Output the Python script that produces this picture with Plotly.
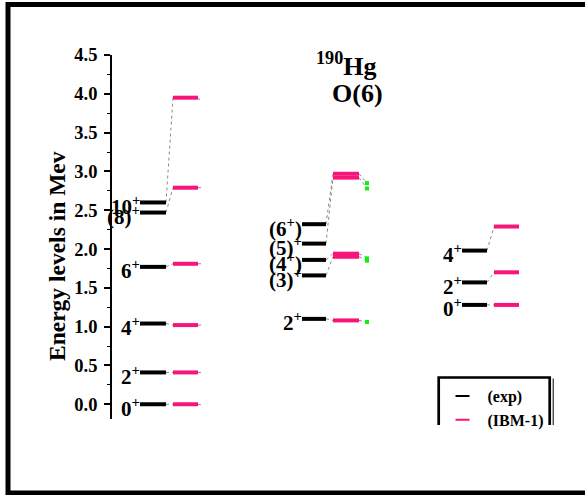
import plotly.graph_objects as go

# ---------------- data (energies in MeV) ----------------
g1_spin = ["0<sup>+</sup>", "2<sup>+</sup>", "4<sup>+</sup>", "6<sup>+</sup>", "(8)<sup>+</sup>", "10<sup>+</sup>"]
g1_exp = [0.00, 0.41, 1.04, 1.77, 2.47, 2.60]
g1_ibm = [0.00, 0.41, 1.02, 1.81, 2.79, 3.95]
g1_tail = [-0.01, 0.41, 1.02, 1.81, 2.79, 3.89]

g2_spin = ["2<sup>+</sup>", "(3)<sup>+</sup>", "(4<sup>+</sup>)", "(5)<sup>+</sup>", "(6<sup>+</sup>)"]
g2_exp = [1.10, 1.66, 1.86, 2.07, 2.32]
g2_ibm = [1.08, 1.90, 1.94, 2.92, 2.97]
g2_alt = [1.06, 1.85, 1.88, 2.78, 2.85]

g3_spin = ["0<sup>+</sup>", "2<sup>+</sup>", "4<sup>+</sup>"]
g3_exp = [1.28, 1.57, 1.98]
g3_ibm = [1.28, 1.70, 2.29]

y_ticks = [0.0, 0.5, 1.0, 1.5, 2.0, 2.5, 3.0, 3.5, 4.0, 4.5]

# ---------------- layout constants ----------------
W, H = 585, 495
L, R, T, B = 112, 585, 55, 419          # plot area in pixels
FONT = "Liberation Serif"
BLACK = "#000000"
PINK = "#F7157C"
GREEN = "#11EE11"
GREY = "#8a8a8a"

# column positions (x axis units == pixels)
groups = [
    dict(spin=g1_spin, exp=g1_exp, ibm=g1_ibm, nxt=g1_tail, col=(140, 166, 173, 198, 202), mark=False),
    dict(spin=g2_spin, exp=g2_exp, ibm=g2_ibm, nxt=g2_alt, col=(302, 326, 333, 359, 367), mark=True),
    dict(spin=g3_spin, exp=g3_exp, ibm=g3_ibm, nxt=None, col=(462, 487, 494, 519, None), mark=False),
]


def px_x(p):
    return (p - L) / (R - L)


def px_y(p):
    return (B - p) / (B - T)


fig = go.Figure()

# connectors (dotted), drawn first
cx, cy = [], []
for g in groups:
    a0, a1, b0, b1, c0 = g["col"]
    for i, e in enumerate(g["exp"]):
        cx += [a1, b0, None]
        cy += [e, g["ibm"][i], None]
        if g["nxt"] is not None:
            cx += [b1, c0, None]
            cy += [g["ibm"][i], g["nxt"][i], None]
fig.add_trace(go.Scatter(x=cx, y=cy, mode="lines", showlegend=False, hoverinfo="skip",
                         line=dict(color=GREY, width=1, dash="dot")))

# level bars
for key, color, name in [("exp", BLACK, "(exp)"), ("ibm", PINK, "(IBM-1)")]:
    bx, by = [], []
    for g in groups:
        a0, a1, b0, b1, c0 = g["col"]
        x0, x1 = (a0, a1) if key == "exp" else (b0, b1)
        for e in g[key]:
            bx += [x0, x1, None]
            by += [e, e, None]
    fig.add_trace(go.Scatter(x=bx, y=by, mode="lines", name=name, legendgroup=name,
                             showlegend=False, line=dict(color=color, width=4)))

# third-column points (green)
for g in groups:
    if g["mark"]:
        fig.add_trace(go.Scatter(x=[g["col"][4]] * len(g["nxt"]), y=g["nxt"], mode="markers",
                                 showlegend=False,
                                 marker=dict(symbol="square", size=4, color=GREEN)))

# legend entries
for color, name in [(BLACK, "(exp)"), (PINK, "(IBM-1)")]:
    fig.add_trace(go.Scatter(x=[None], y=[None], mode="markers", name=name, legendgroup=name,
                             marker=dict(symbol="line-ew", size=10,
                                         line=dict(color=color, width=2))))

annotations = []
# spin labels
for g in groups:
    for e, s in zip(g["exp"], g["spin"]):
        annotations.append(dict(x=g["col"][0], y=e, xref="x", yref="y", text=s, showarrow=False,
                                xanchor="right", yanchor="middle", xshift=2, yshift=-3,
                                font=dict(family=FONT, size=21, color=BLACK, weight="bold")))

# title texts
annotations.append(dict(x=px_x(346), y=px_y(64), xref="paper", yref="paper",
                        text="<sup>190</sup>Hg", showarrow=False, xanchor="center", yanchor="middle",
                        font=dict(family=FONT, size=26, color=BLACK, weight="bold")))
annotations.append(dict(x=px_x(357), y=px_y(94), xref="paper", yref="paper",
                        text="O(6)", showarrow=False, xanchor="center", yanchor="middle",
                        font=dict(family=FONT, size=26, color=BLACK, weight="bold")))
# axis title
annotations.append(dict(x=px_x(57), y=px_y(256), xref="paper", yref="paper",
                        text="Energy levels in Mev", showarrow=False, textangle=-90,
                        xanchor="center", yanchor="middle",
                        font=dict(family=FONT, size=23.5, color=BLACK, weight="bold")))

shapes = [
    # outer frame
    dict(type="path", xref="paper", yref="paper",
         path=f"M {px_x(600)},{px_y(4.5)} L {px_x(8)},{px_y(4.5)} L {px_x(8)},{px_y(493)} L {px_x(600)},{px_y(493)}",
         line=dict(color=BLACK, width=5)),
    # legend box (bottom clipped)
    dict(type="path", xref="paper", yref="paper",
         path=f"M {px_x(438.7)},{px_y(425)} L {px_x(438.7)},{px_y(377.5)} L {px_x(549.7)},{px_y(377.5)} L {px_x(549.7)},{px_y(425)}",
         line=dict(color=BLACK, width=2.7)),
    dict(type="line", xref="paper", yref="paper",
         x0=px_x(553.2), x1=px_x(553.2), y0=px_y(378.5), y1=px_y(425),
         line=dict(color=BLACK, width=1)),
]

fig.update_layout(
    width=W, height=H,
    margin=dict(l=L, r=W - R, t=T, b=H - B, pad=0),
    paper_bgcolor="white", plot_bgcolor="white",
    showlegend=True,
    legend=dict(x=px_x(437.5), y=px_y(379), xanchor="left", yanchor="top",
                bgcolor="rgba(0,0,0,0)", borderwidth=0, itemwidth=40, tracegroupgap=0,
                font=dict(family=FONT, size=16, color=BLACK, weight="bold")),
    annotations=annotations,
    shapes=shapes,
    xaxis=dict(range=[L, R], visible=False, showgrid=False, zeroline=False),
    yaxis=dict(range=[-0.19, 4.5], showgrid=False, zeroline=False,
               showline=True, linecolor=BLACK, linewidth=1.7,
               ticks="outside", ticklen=6, tickwidth=1.5, tickcolor=BLACK,
               tickvals=y_ticks, tickformat=".1f", ticklabelstandoff=3,
               minor=dict(dtick=0.25, tick0=0, ticks="outside", ticklen=3, tickcolor=BLACK, tickwidth=1.2),
               tickfont=dict(family=FONT, size=18.5, color=BLACK, weight="bold")),
)

fig.write_html("out.html", config={"displayModeBar": False},
               post_script="document.body.style.margin='0px';")
